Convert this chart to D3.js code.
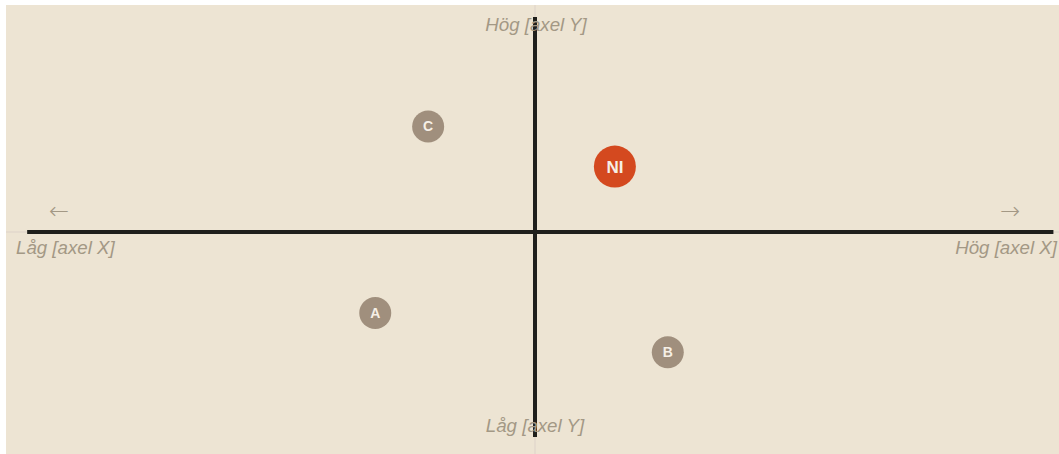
<!DOCTYPE html>
<html>
<head>
<meta charset="utf-8">
<script src="https://cdn.jsdelivr.net/npm/d3@7"></script>
<style>
  body { margin: 0; background: #fff; }
  svg { display: block; }
</style>
</head>
<body>
<svg id="chart" width="1059" height="454"></svg>
<script>
// positioner, -100..100 på båda axlarna
var names = ["C", "NI", "A", "B"];
var xValues = [-20.2, 15.1, -30.2, 25.1];
var yValues = [46.5, 28.8, -35.7, -53];
var highlight = ["NI"];

var axisLabels = {
  yHigh: "Hög [axel Y]",
  yLow: "Låg [axel Y]",
  xLow: "Låg [axel X]",
  xHigh: "Hög [axel X]"
};

var width = 1059, height = 454;
var panel = { x: 6, y: 5, w: 1058, h: 454 };

var svg = d3.select("#chart");

var x = d3.scaleLinear().domain([-100, 100]).range([panel.x, panel.x + panel.w]);
var y = d3.scaleLinear().domain([-100, 100]).range([panel.y + panel.h, panel.y]);

// bakgrund
svg.append("rect")
  .attr("x", panel.x).attr("y", panel.y)
  .attr("width", panel.w).attr("height", panel.h)
  .attr("fill", "#ede4d3");

// svaga hjälplinjer genom origo
svg.append("line")
  .attr("x1", panel.x).attr("x2", width)
  .attr("y1", y(0)).attr("y2", y(0))
  .attr("stroke", "#e2d8cc").attr("stroke-width", 1.5);
svg.append("line")
  .attr("x1", x(0)).attr("x2", x(0))
  .attr("y1", panel.y).attr("y2", height)
  .attr("stroke", "#e2d8cc").attr("stroke-width", 1.5);

// axlarna
svg.append("line")
  .attr("x1", x(-96)).attr("x2", x(98))
  .attr("y1", y(0)).attr("y2", y(0))
  .attr("stroke", "#1f1f1c").attr("stroke-width", 4);
svg.append("line")
  .attr("x1", x(0)).attr("x2", x(0))
  .attr("y1", y(94.7)).attr("y2", y(-90.3))
  .attr("stroke", "#1f1f1c").attr("stroke-width", 4);

// axeltexter
var labelStyle = function(sel) {
  sel.attr("font-family", "Liberation Sans, Arial, sans-serif")
    .attr("font-style", "italic")
    .attr("font-size", 18.7)
    .attr("fill", "#a39885");
};
svg.append("text").call(labelStyle)
  .attr("x", x(0) + 1).attr("y", 31).attr("text-anchor", "middle")
  .text(axisLabels.yHigh);
svg.append("text").call(labelStyle)
  .attr("x", x(0)).attr("y", 432).attr("text-anchor", "middle")
  .text(axisLabels.yLow);
svg.append("text").call(labelStyle)
  .attr("x", 16).attr("y", 254).attr("text-anchor", "start")
  .text(axisLabels.xLow);
svg.append("text").call(labelStyle)
  .attr("x", 1057).attr("y", 254).attr("text-anchor", "end")
  .text(axisLabels.xHigh);

// pilar
svg.append("text")
  .attr("x", 59).attr("y", 219).attr("text-anchor", "middle")
  .attr("font-family", "DejaVu Sans, sans-serif").attr("font-size", 24)
  .attr("font-weight", 200)
  .attr("fill", "#a39885").text("\u2190");
svg.append("text")
  .attr("x", 1010).attr("y", 219).attr("text-anchor", "middle")
  .attr("font-family", "DejaVu Sans, sans-serif").attr("font-size", 24)
  .attr("font-weight", 200)
  .attr("fill", "#a39885").text("\u2192");

// punkter
var data = names.map(function(d, i) {
  return { name: d, x: xValues[i], y: yValues[i], hi: highlight.indexOf(d) >= 0 };
});

var g = svg.selectAll("g.pt")
  .data(data)
  .enter()
  .append("g")
  .attr("class", "pt")
  .attr("transform", function(d) { return "translate(" + x(d.x) + "," + y(d.y) + ")"; });

g.append("circle")
  .attr("r", function(d) { return d.hi ? 21 : 16; })
  .attr("fill", function(d) { return d.hi ? "#d4491f" : "#a08f7d"; });

g.append("text")
  .attr("text-anchor", "middle")
  .attr("dy", "0.36em")
  .attr("font-family", "Liberation Sans, Arial, sans-serif")
  .attr("font-weight", "bold")
  .attr("font-size", function(d) { return d.hi ? 17 : 14; })
  .attr("fill", "#f6efe6")
  .text(function(d) { return d.name; });
</script>
</body>
</html>
